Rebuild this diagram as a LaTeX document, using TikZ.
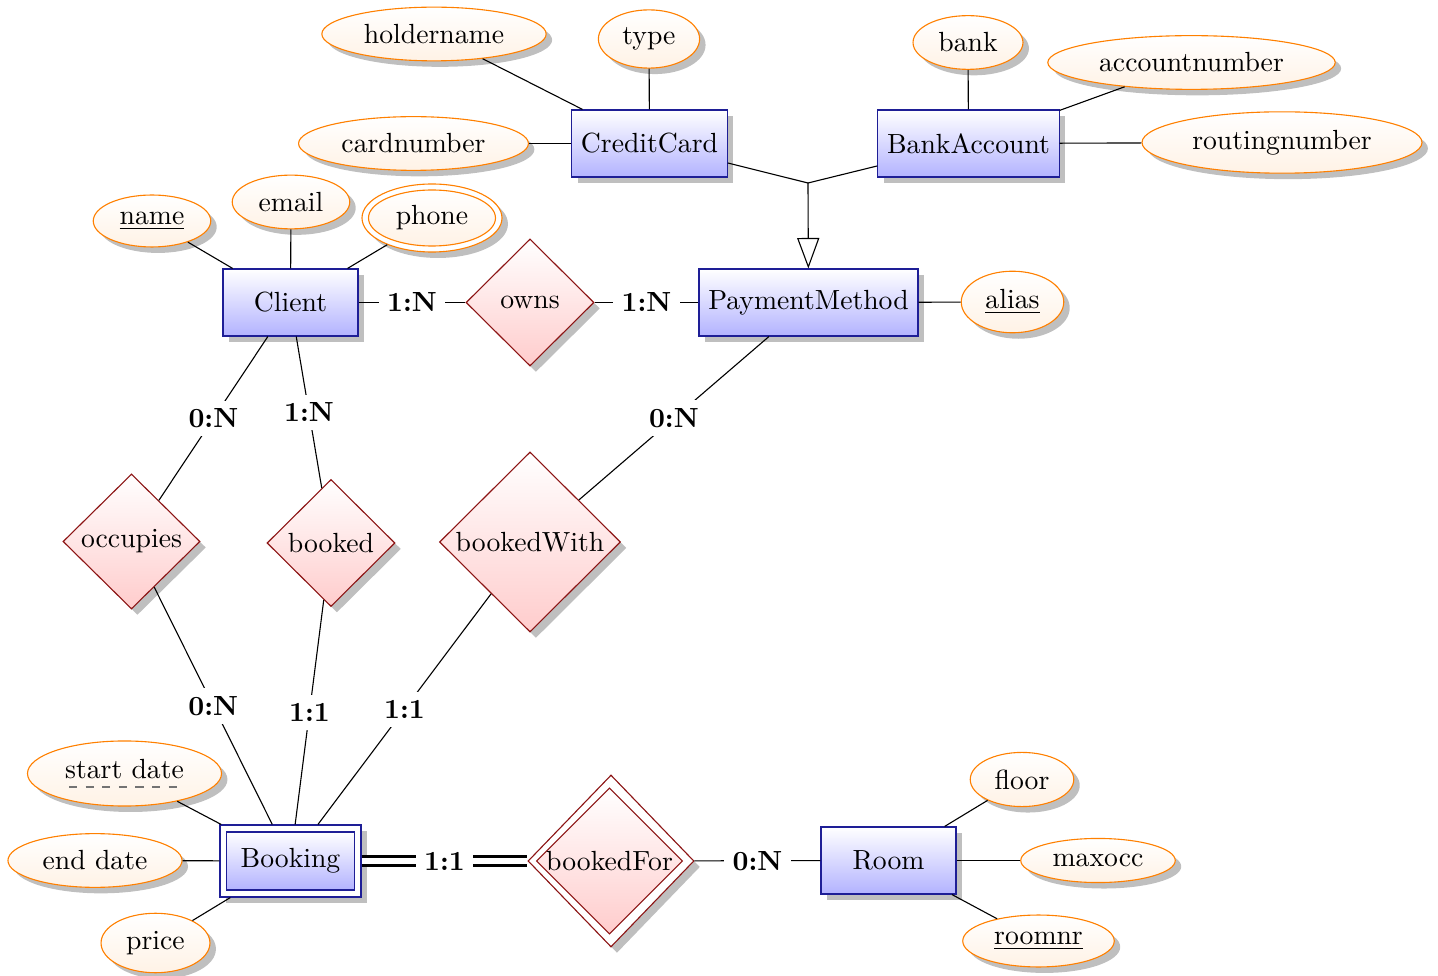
\documentclass[tikz,border=0pt]{standalone}
\usetikzlibrary{shapes.geometric,shadows,arrows.meta}
\newcommand\pxu[1]{#1*0.361pt}
\definecolor{entborder}{RGB}{30,30,150}
\definecolor{relborder}{RGB}{140,20,20}
\tikzset{
  entity/.style={rectangle, draw=entborder, top color=white, bottom color=blue!30,
    drop shadow, minimum width=\pxu{135}, minimum height=\pxu{67}},
  entityouter/.style={rectangle, draw=entborder, fill=white, drop shadow, inner sep=0pt},
  entityinner/.style={rectangle, draw=entborder, top color=white, bottom color=blue!30, inner sep=0pt},
  relation/.style={diamond, draw=relborder, top color=white, bottom color=red!20,
    drop shadow, inner sep=0pt},
  relouter/.style={diamond, draw=relborder, fill=white, drop shadow, inner sep=0pt},
  relinner/.style={diamond, draw=relborder, top color=white, bottom color=red!20, inner sep=0pt},
  attribute/.style={ellipse, draw=orange, top color=white, bottom color=orange!10, drop shadow},
  attrouter/.style={ellipse, draw=orange, fill=white, drop shadow, inner sep=0pt},
  attrinner/.style={ellipse, draw=orange, top color=white, bottom color=orange!10, inner sep=0pt},
  card/.style={fill=white, font=\bfseries, inner sep=3pt},
  weakline/.style={double, double distance=2.5pt, line width=0.8pt},
}
\begin{document}
\begin{tikzpicture}[x=0.361pt, y=-0.361pt]
\useasboundingbox (0,0) rectangle (1438,976);

% entities
\node[entity] (CreditCard) at (649.5,143.5) {CreditCard};
\node[entity] (BankAccount) at (968.5,143.5) {BankAccount};
\node[entity] (Client) at (290.5,302.5) {Client};
\node[entity] (PaymentMethod) at (808.5,302.5) {PaymentMethod};
\node[entity] (Room) at (888.5,860.5) {Room};
\node[entityouter, minimum width=\pxu{141}, minimum height=\pxu{72}] (BookingOuter) at (290.5,861) {};
\node[entityinner, minimum width=\pxu{128}, minimum height=\pxu{58}] (Booking) at (290.5,861) {Booking};

% relationships
\node[relation, minimum width=\pxu{128}, minimum height=\pxu{127}] (owns) at (530,302.5) {owns};
\node[relation, minimum width=\pxu{137}, minimum height=\pxu{135}] (occupies) at (131.5,541.5) {occupies};
\node[relation, minimum width=\pxu{128}, minimum height=\pxu{127}] (booked) at (331,543) {booked};
\node[relation, minimum width=\pxu{181}, minimum height=\pxu{180}] (bookedWith) at (530,542) {bookedWith};
\node[relouter, minimum width=\pxu{166}, minimum height=\pxu{172}] (bookedForOuter) at (611,861) {};
\node[relinner, minimum width=\pxu{146}, minimum height=\pxu{145}] (bookedFor) at (609.5,861) {bookedFor};

% attributes
\node[attribute] (holdername) at (434,34) {holdername};
\node[attribute] (type) at (649,39) {type};
\node[attribute] (cardnumber) at (413.5,143.5) {cardnumber};
\node[attribute] (bank) at (968,42.5) {bank};
\node[attribute] (accountnumber) at (1191.5,62.5) {accountnumber};
\node[attribute] (routingnumber) at (1282,142.5) {routingnumber};
\node[attribute] (name) at (152,221) {\underline{name}};
\node[attribute] (email) at (291,202) {email};
\node[attrouter, minimum width=\pxu{140}, minimum height=\pxu{68}] (phoneOuter) at (432,218) {};
\node[attrinner, minimum width=\pxu{127}, minimum height=\pxu{56}] (phone) at (432,218) {phone};
\node[attribute] (alias) at (1012.5,302) {\underline{alias}};
\node[attribute] (startdate) at (124.5,773.5) {start date\rule[-3pt]{0pt}{3pt}};
\node[attribute] (enddate) at (95,860.5) {end date};
\node[attribute] (price) at (155.5,943) {price};
\node[attribute] (floor) at (1022,779.5) {floor};
\node[attribute] (maxocc) at (1098,860.5) {maxocc};
\node[attribute] (roomnr) at (1038.5,941) {\underline{roomnr}};

% dashed underline of the partial key
\draw[black!55, line width=0.5pt, dash pattern=on 2.9pt off 3.1pt] (69,787) -- (178,787);

% attribute connectors
\draw (holdername) -- (CreditCard);
\draw (type) -- (CreditCard);
\draw (cardnumber) -- (CreditCard);
\draw (bank) -- (BankAccount);
\draw (accountnumber) -- (BankAccount);
\draw (routingnumber) -- (BankAccount);
\draw (name) -- (Client);
\draw (email) -- (Client);
\draw (phoneOuter) -- (Client);
\draw (alias) -- (PaymentMethod);
\draw (startdate) -- (BookingOuter);
\draw (enddate) -- (BookingOuter);
\draw (price) -- (BookingOuter);
\draw (floor) -- (Room);
\draw (maxocc) -- (Room);
\draw (roomnr) -- (Room);

% generalisation
\coordinate (isa) at (808,183);
\draw (CreditCard) -- (isa);
\draw (BankAccount) -- (isa);
\draw[-{Triangle[open, length=11pt, width=8pt]}] (isa) -- (PaymentMethod);

% relationship connectors
\draw (Client) -- node[card] {1:N} (owns);
\draw (owns) -- node[card] {1:N} (PaymentMethod);
\draw (Client) -- node[card] {0:N} (occupies);
\draw (occupies) -- node[card] {0:N} (BookingOuter);
\draw (Client) -- node[card] {1:N} (booked);
\draw (booked) -- node[card] {1:1} (BookingOuter);
\draw (PaymentMethod) -- node[card] {0:N} (bookedWith);
\draw (bookedWith) -- node[card] {1:1} (BookingOuter);
\draw[weakline] (BookingOuter) -- node[card] {1:1} (bookedForOuter);
\draw (bookedForOuter) -- node[card] {0:N} (Room);
\end{tikzpicture}
\end{document}
